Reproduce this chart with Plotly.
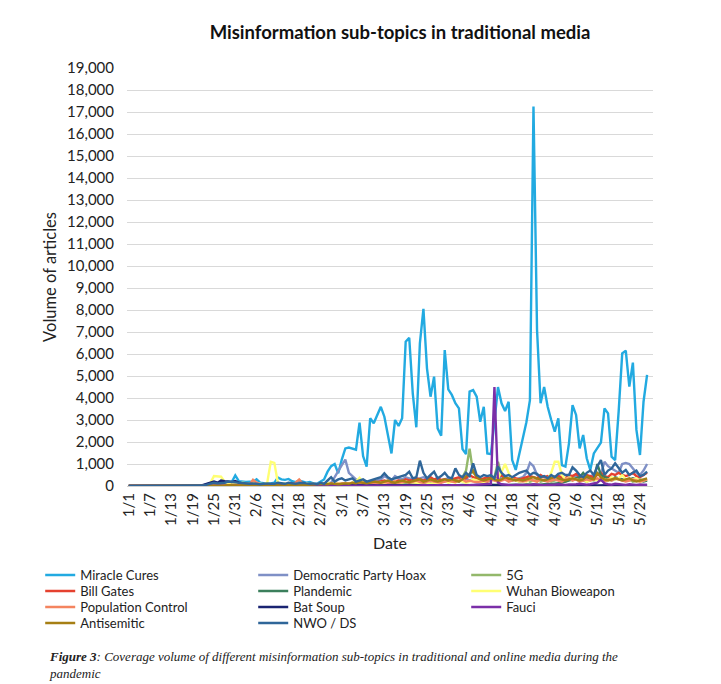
import plotly.graph_objects as go
import pandas as pd

# ---------------- data (daily volume of articles, 1/1 .. 5/26) ----------------
tick_labels = ["1/1", "1/7", "1/13", "1/19", "1/25", "1/31", "2/6", "2/12", "2/18", "2/24",
               "3/1", "3/7", "3/13", "3/19", "3/25", "3/31", "4/6", "4/12", "4/18", "4/24",
               "4/30", "5/6", "5/12", "5/18", "5/24"]

miracle_cures = [
    0, 0, 0, 0, 0, 0, 0, 0, 0, 0,
    0, 0, 0, 0, 0, 0, 0, 0, 0, 0,
    0, 30, 80, 100, 150, 120, 100, 150, 200, 180,
    480, 220, 200, 180, 200, 180, 300, 150, 130, 100,
    120, 150, 380, 300, 280, 320, 220, 180, 250, 200,
    150, 180, 120, 100, 200, 300, 650, 900, 1000, 580,
    1200, 1710, 1750, 1700, 1650, 2880, 1360, 880, 3080, 2850,
    3200, 3600, 3150, 2300, 1480, 3000, 2730, 3080, 6560, 6740,
    4200, 2670, 6480, 8050, 5350, 4060, 4970, 2620, 2290, 6180,
    4390, 4140, 3760, 3530, 1680, 1450, 4290, 4360, 4060, 2920,
    3600, 1480, 1450, 2900, 4500, 3760, 3410, 3830, 1180, 730,
    1450, 2200, 2900, 3900, 17250, 7100, 3760, 4500, 3600, 3000,
    2470, 3080, 950, 880, 1940, 3680, 3230, 1710, 2320, 1260,
    730, 1480, 1710, 1970, 3530, 3300, 1330, 1180, 3400, 6030,
    6150, 4520, 5610, 2550, 1410, 3830, 5050]

democratic_party_hoax = [
    0, 0, 0, 0, 0, 0, 0, 0, 0, 0,
    0, 0, 0, 0, 0, 0, 0, 0, 0, 0,
    0, 0, 10, 20, 30, 20, 30, 20, 30, 40,
    30, 30, 40, 30, 50, 40, 30, 40, 50, 40,
    50, 60, 80, 60, 50, 70, 60, 50, 80, 60,
    70, 60, 80, 100, 120, 100, 130, 150, 400, 700,
    950, 1200, 600, 450, 300, 150, 120, 150, 180, 200,
    250, 300, 450, 350, 250, 450, 350, 300, 400, 350,
    300, 300, 350, 400, 300, 250, 300, 350, 250, 300,
    350, 300, 250, 200, 300, 350, 250, 300, 350, 300,
    250, 300, 400, 300, 250, 450, 350, 300, 250, 300,
    350, 400, 600, 1050, 900, 500, 450, 400, 350, 300,
    400, 450, 350, 300, 400, 350, 450, 500, 400, 350,
    450, 500, 600, 550, 1100, 900, 800, 700, 600, 1000,
    1050, 1000, 800, 600, 500, 700, 1000]

five_g = [
    0, 0, 0, 0, 0, 0, 0, 0, 0, 0,
    0, 0, 0, 0, 0, 0, 0, 0, 0, 0,
    0, 0, 0, 10, 10, 0, 10, 20, 10, 10,
    20, 10, 20, 10, 20, 30, 20, 10, 20, 30,
    20, 30, 20, 40, 30, 20, 30, 40, 30, 20,
    30, 40, 30, 50, 40, 30, 50, 60, 50, 40,
    60, 50, 60, 80, 70, 60, 80, 90, 70, 100,
    80, 100, 120, 100, 150, 130, 120, 150, 140, 160,
    130, 150, 180, 160, 140, 200, 180, 220, 250, 200,
    230, 250, 300, 350, 400, 700, 1700, 600, 450, 300,
    250, 200, 250, 400, 1100, 500, 350, 300, 250, 300,
    200, 250, 300, 200, 250, 300, 200, 250, 300, 200,
    250, 300, 250, 200, 300, 250, 350, 300, 250, 200,
    300, 250, 300, 350, 400, 300, 250, 300, 350, 300,
    250, 300, 200, 250, 300, 250, 300]

bill_gates = [
    0, 0, 0, 0, 0, 0, 0, 0, 0, 0,
    0, 0, 0, 0, 0, 0, 0, 0, 0, 0,
    0, 0, 0, 10, 20, 30, 20, 10, 20, 30,
    20, 20, 30, 20, 30, 20, 30, 40, 30, 20,
    30, 40, 30, 50, 40, 30, 50, 40, 60, 50,
    40, 50, 60, 80, 60, 50, 80, 100, 80, 60,
    100, 120, 100, 150, 130, 100, 150, 180, 150, 200,
    170, 200, 250, 200, 180, 220, 250, 200, 300, 250,
    280, 350, 300, 250, 300, 400, 300, 350, 280, 300,
    250, 300, 350, 400, 300, 350, 500, 400, 350, 300,
    350, 400, 350, 300, 400, 500, 350, 300, 400, 350,
    300, 350, 400, 450, 400, 350, 500, 400, 450, 350,
    400, 450, 400, 350, 500, 450, 550, 400, 350, 500,
    450, 400, 500, 600, 450, 400, 550, 500, 600, 500,
    450, 500, 600, 450, 400, 500, 600]

plandemic = [
    0, 0, 0, 0, 0, 0, 0, 0, 0, 0,
    0, 0, 0, 0, 0, 0, 0, 0, 0, 0,
    0, 0, 0, 0, 0, 0, 0, 0, 0, 0,
    0, 0, 0, 0, 0, 0, 0, 0, 0, 0,
    0, 0, 0, 0, 0, 0, 0, 0, 0, 10,
    0, 0, 10, 0, 10, 0, 10, 10, 0, 10,
    10, 0, 10, 10, 20, 10, 10, 20, 10, 10,
    20, 10, 20, 10, 20, 20, 10, 20, 30, 20,
    20, 30, 20, 30, 20, 30, 40, 30, 20, 30,
    40, 30, 30, 40, 50, 40, 30, 40, 50, 40,
    50, 40, 60, 50, 40, 60, 50, 40, 60, 50,
    60, 50, 70, 60, 80, 70, 60, 80, 100, 80,
    100, 120, 150, 200, 250, 300, 350, 400, 600, 400,
    350, 300, 1000, 500, 400, 350, 300, 400, 350, 300,
    250, 300, 350, 300, 250, 200, 250]

wuhan_bioweapon = [
    0, 0, 0, 0, 0, 0, 0, 0, 0, 0,
    0, 0, 0, 0, 0, 0, 0, 0, 0, 0,
    0, 0, 50, 150, 450, 450, 420, 200, 150, 100,
    120, 100, 150, 120, 100, 150, 120, 100, 80, 150,
    1100, 1050, 150, 100, 120, 80, 100, 60, 80, 100,
    120, 80, 100, 60, 80, 100, 150, 80, 100, 120,
    80, 100, 120, 150, 200, 370, 150, 100, 80, 100,
    120, 150, 120, 100, 150, 200, 120, 150, 200, 150,
    100, 150, 120, 200, 150, 100, 150, 120, 200, 250,
    150, 200, 150, 250, 200, 150, 200, 300, 250, 200,
    150, 200, 250, 300, 350, 650, 1000, 600, 300, 250,
    200, 250, 200, 300, 250, 200, 300, 250, 300, 600,
    1100, 1100, 500, 300, 400, 350, 300, 250, 300, 200,
    250, 300, 250, 350, 300, 250, 400, 300, 350, 500,
    300, 250, 300, 350, 200, 250, 300]

population_control = [
    0, 0, 0, 0, 0, 0, 0, 0, 0, 0,
    0, 0, 0, 0, 0, 0, 0, 0, 0, 0,
    0, 0, 10, 20, 30, 20, 30, 40, 50, 30,
    40, 50, 60, 40, 50, 280, 150, 80, 60, 50,
    40, 60, 50, 80, 60, 50, 70, 150, 300, 100,
    60, 50, 60, 80, 60, 50, 70, 60, 80, 100,
    80, 100, 120, 100, 80, 120, 150, 100, 120, 150,
    120, 150, 180, 150, 120, 200, 150, 180, 200, 150,
    200, 250, 180, 150, 200, 250, 200, 180, 150, 200,
    250, 200, 180, 250, 300, 200, 250, 200, 180, 200,
    250, 200, 300, 250, 200, 250, 300, 200, 250, 300,
    250, 200, 250, 300, 250, 200, 300, 250, 200, 250,
    300, 250, 200, 300, 350, 250, 300, 200, 250, 300,
    250, 300, 350, 250, 200, 300, 250, 350, 300, 250,
    200, 250, 300, 250, 200, 250, 300]

bat_soup = [
    0, 0, 0, 0, 0, 0, 0, 0, 0, 0,
    0, 0, 0, 0, 0, 0, 0, 0, 0, 0,
    0, 50, 100, 180, 200, 150, 250, 220, 200, 180,
    230, 150, 120, 100, 80, 60, 70, 50, 60, 50,
    40, 50, 60, 40, 50, 60, 40, 50, 40, 30,
    40, 30, 50, 40, 30, 40, 50, 40, 30, 40,
    50, 40, 30, 40, 50, 30, 40, 30, 50, 40,
    30, 40, 50, 30, 40, 50, 40, 30, 40, 50,
    40, 30, 50, 40, 30, 40, 50, 40, 30, 40,
    50, 40, 30, 40, 50, 40, 30, 40, 50, 40,
    30, 40, 50, 40, 30, 40, 50, 40, 30, 40,
    50, 40, 30, 40, 50, 40, 30, 40, 50, 40,
    30, 40, 50, 40, 30, 40, 50, 40, 30, 40,
    50, 40, 30, 40, 50, 40, 30, 40, 50, 40,
    30, 40, 50, 40, 30, 40, 50]

fauci = [
    0, 0, 0, 0, 0, 0, 0, 0, 0, 0,
    0, 0, 0, 0, 0, 0, 0, 0, 0, 0,
    0, 0, 0, 0, 0, 0, 0, 0, 0, 0,
    0, 0, 0, 0, 0, 0, 0, 0, 0, 0,
    0, 0, 0, 0, 0, 0, 0, 0, 0, 0,
    0, 0, 10, 0, 10, 10, 0, 10, 20, 10,
    10, 20, 10, 20, 10, 20, 30, 20, 10, 20,
    20, 30, 20, 10, 20, 30, 20, 30, 20, 30,
    30, 20, 30, 40, 30, 20, 30, 40, 30, 20,
    30, 40, 30, 50, 40, 30, 40, 50, 40, 60,
    50, 60, 100, 4500, 150, 80, 60, 50, 40, 60,
    50, 40, 60, 50, 80, 60, 50, 40, 60, 50,
    60, 80, 60, 50, 70, 60, 80, 100, 80, 60,
    80, 100, 150, 300, 120, 80, 60, 100, 80, 60,
    50, 80, 60, 50, 70, 60, 50]

antisemitic = [
    0, 0, 0, 0, 0, 0, 0, 0, 0, 0,
    0, 0, 0, 0, 0, 0, 0, 0, 0, 0,
    0, 0, 10, 20, 30, 20, 30, 20, 40, 30,
    20, 30, 40, 30, 20, 30, 40, 30, 20, 30,
    40, 30, 50, 40, 30, 50, 60, 40, 50, 60,
    50, 60, 80, 60, 80, 100, 80, 120, 100, 80,
    100, 120, 100, 150, 120, 180, 150, 120, 150, 200,
    180, 150, 200, 250, 180, 150, 200, 250, 200, 180,
    220, 250, 300, 200, 250, 300, 250, 200, 250, 300,
    250, 300, 250, 200, 300, 450, 550, 700, 400, 300,
    250, 300, 350, 300, 250, 300, 400, 350, 300, 250,
    300, 250, 300, 350, 400, 350, 300, 250, 300, 350,
    430, 350, 300, 250, 300, 350, 300, 250, 300, 450,
    350, 300, 580, 400, 300, 250, 300, 350, 300, 250,
    300, 350, 250, 200, 250, 300, 350]

nwo_ds = [
    0, 0, 0, 0, 0, 0, 0, 0, 0, 0,
    0, 0, 0, 0, 0, 0, 0, 0, 0, 0,
    0, 20, 60, 100, 150, 120, 130, 150, 200, 180,
    160, 150, 120, 100, 100, 120, 100, 80, 100, 120,
    100, 100, 150, 120, 100, 150, 120, 100, 130, 150,
    120, 100, 120, 80, 150, 100, 250, 400, 200, 300,
    350, 250, 300, 350, 200, 250, 300, 200, 250, 300,
    350, 400, 580, 400, 300, 350, 400, 450, 500, 650,
    350, 400, 1150, 600, 350, 500, 650, 350, 450, 600,
    400, 350, 800, 500, 400, 600, 450, 1030, 500, 400,
    500, 450, 500, 350, 880, 600, 450, 500, 400, 500,
    600, 650, 700, 500, 600, 550, 400, 450, 350, 500,
    400, 550, 600, 500, 500, 850, 700, 500, 400, 600,
    700, 500, 900, 1180, 500, 700, 800, 1030, 800, 600,
    730, 500, 600, 700, 450, 500, 650]

series_names = ["Miracle Cures", "Democratic Party Hoax", "5G", "Bill Gates", "Plandemic",
                "Wuhan Bioweapon", "Population Control", "Bat Soup", "Fauci", "Antisemitic",
                "NWO / DS"]
series_values = [miracle_cures, democratic_party_hoax, five_g, bill_gates, plandemic,
                 wuhan_bioweapon, population_control, bat_soup, fauci, antisemitic, nwo_ds]
series_colors = ["#22AAE1", "#7F90C6", "#93B86B", "#E5412F", "#3B7F5C",
                 "#FFFF73", "#F4845F", "#1A2472", "#7B2FA8", "#A67F14", "#2F6699"]

dates = pd.date_range("2020-01-01", periods=len(miracle_cures), freq="D")
for v in series_values:
    assert len(v) == len(dates), len(v)

FONT = "Lato, 'Open Sans', sans-serif"
legend_rows = ["legend", "legend2", "legend3", "legend4"]

fig = go.Figure()
for i, (name, vals, col) in enumerate(zip(series_names, series_values, series_colors)):
    fig.add_trace(go.Scatter(x=dates, y=vals, name=name, mode="lines",
                             line=dict(color=col, width=2.4),
                             legend=legend_rows[i // 3]))

x_start = dates[0] - pd.Timedelta(hours=12)
x_end = dates[0] + pd.Timedelta(hours=int(147.7 * 24))

# page has an 8px body margin: figure is 713x676, drawn from (8, 8)
W, H = 713, 676
ML, MT, MR, MB = 119, 60, 68, 198
plot_h = H - MT - MB

def legend_cfg(top_px):
    return dict(orientation="h", x=-0.165, xanchor="left",
                y=-(top_px - (MT + plot_h)) / plot_h, yanchor="top",
                entrywidth=168, entrywidthmode="pixels", traceorder="normal",
                font=dict(size=13, color="#222"), bgcolor="rgba(0,0,0,0)")

fig.update_layout(
    width=W, height=H,
    paper_bgcolor="white", plot_bgcolor="white",
    margin=dict(l=ML, r=MR, t=MT, b=MB),
    font=dict(family=FONT, size=13, color="#222"),
    title=dict(text="<b>Misinformation sub-topics in traditional media</b>",
               x=392 / W, xanchor="center", y=1 - 25 / H, yanchor="middle",
               font=dict(size=18.5, color="#111")),
    xaxis=dict(range=[x_start, x_end], tickmode="array",
               tickvals=list(dates[::6]), ticktext=tick_labels,
               tickangle=-90, tickfont=dict(size=15, color="#222"),
               showgrid=False, showline=True, linecolor="#D0D0D0", linewidth=1,
               ticks="", title=dict(text="Date", font=dict(size=16, color="#222"), standoff=12)),
    yaxis=dict(range=[0, 19000], dtick=1000, tickformat=",",
               tickfont=dict(size=15, color="#222"), ticklabelstandoff=12,
               showgrid=True, gridcolor="#D9D9D9", gridwidth=1, zeroline=False,
               ticks="", title=dict(text="Volume of articles",
                                    font=dict(size=16.5, color="#222"), standoff=6)),
    legend=legend_cfg(552),
    legend2=legend_cfg(568),
    legend3=legend_cfg(584),
    legend4=legend_cfg(600),
    showlegend=True,
)

fig.add_annotation(
    xref="paper", yref="paper", x=-0.152, y=(478 - 639) / plot_h, xanchor="left", yanchor="top",
    align="left", showarrow=False,
    text="<b><i>Figure 3</i></b><i>: Coverage volume of different misinformation sub-topics in "
         "traditional and online media during the<br>pandemic</i>",
    font=dict(family="'Liberation Serif', 'Times New Roman', serif", size=13, color="#222"),
)

fig.write_html("out.html")
